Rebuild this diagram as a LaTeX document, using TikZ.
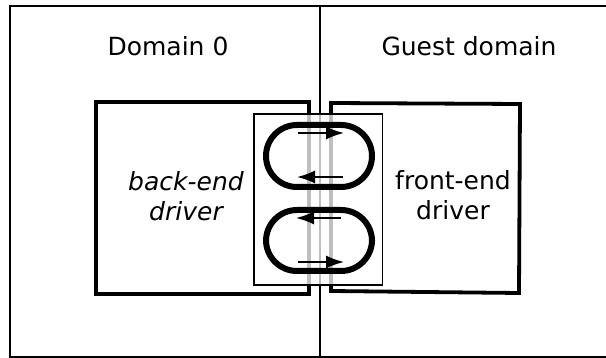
\documentclass[tikz,border=0pt]{standalone}
\usepackage{fontspec}
\setmainfont{DejaVu Sans}
\usetikzlibrary{arrows.meta}
\begin{document}
\begin{tikzpicture}[x=1pt,y=-1pt,
  frame/.style={line width=2pt},
  driverbox/.style={line width=3.8pt, line join=miter},
  ring/.style={line width=6pt, rounded corners=31pt},
  flow/.style={line width=1.8pt, arrows={-Latex[length=18pt,width=13pt]}},
  lbl/.style={font=\fontsize{25}{30}\selectfont, inner sep=0pt, align=center}]
\clip (0,0) rectangle (606,358);
% outer frame and domain divider
\draw[frame] (620,6) -- (10,6) -- (10,357) -- (620,357);
\coordinate (divtop) at (320,6);
\coordinate (divbot) at (320,357);
\draw[frame] (divtop) -- (divbot);
% labels
\node[lbl, anchor=base] (dom0) at (168,56) {Domain 0};
\node[lbl, anchor=base] (guest) at (469,56) {Guest domain};
% driver boxes
\draw[driverbox] (96,102) -- (309,102) -- (309,294) -- (96,294) -- cycle;
\draw[driverbox] (331,103) -- (520,104) -- (519,293) -- (331,291) -- cycle;
\node[lbl, font=\fontsize{25}{30}\selectfont\itshape] (back) at (186,196) {back-end\\driver};
\node[lbl] (front) at (453,195) {front-end\\driver};
% shared page (semi-transparent)
\draw[line width=1.5pt, fill=white, fill opacity=0.75] (254,114) rectangle (382.5,285);
% rings
\draw[ring] (266,125) rectangle (372,187);
\draw[ring] (266,210) rectangle (372,271);
% flow arrows
\coordinate (a1s) at (298,133); \coordinate (a1e) at (344,133);
\coordinate (a2s) at (343,177); \coordinate (a2e) at (297,177);
\coordinate (a3s) at (341,218); \coordinate (a3e) at (296,218);
\coordinate (a4s) at (298,262); \coordinate (a4e) at (344,262);
\draw[flow] (a1s) -- (a1e);
\draw[flow] (a2s) -- (a2e);
\draw[flow] (a3s) -- (a3e);
\draw[flow] (a4s) -- (a4e);
\end{tikzpicture}
\end{document}
